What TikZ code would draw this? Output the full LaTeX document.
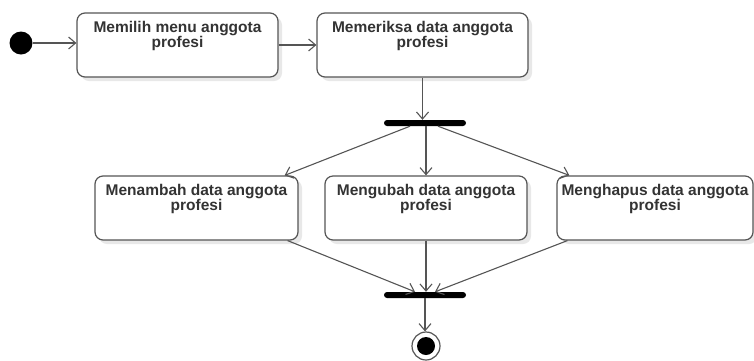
\documentclass[tikz,border=0pt]{standalone}
\usepackage{fontspec}
\setmainfont{Liberation Sans}
\usetikzlibrary{arrows.meta, positioning, shadows}
\definecolor{actGray}{HTML}{555555}
\definecolor{actText}{HTML}{333333}

\begin{document}
\begin{tikzpicture}[
  x=1pt, y=-1pt,
  actbox/.style={
    rectangle, rounded corners=8pt, draw=actGray, fill=white,
    line width=1.2pt, minimum height=64pt,
    drop shadow={shadow xshift=4pt, shadow yshift=-4pt, opacity=0.18},
    label={[acttext]north:{#1}},
  },
  acttext/.style={
    anchor=north, yshift=-8.5pt, inner sep=0pt, align=center,
    font=\fontsize{15.5}{15}\selectfont\bfseries, text=actText,
  },
  bar/.style={
    rectangle, rounded corners=3pt, fill=black,
    minimum width=82pt, minimum height=6pt, inner sep=0pt,
  },
  flow/.style={-{Straight Barb[length=7pt,width=12pt]}, draw=actGray, line width=1.1pt},
]
\useasboundingbox (0,0) rectangle (754,360);

% Start and first actions
\node[circle, fill=black, minimum size=23pt, inner sep=0pt] (start) at (21,43) {};
\node[actbox={Memilih menu anggota\\profesi}, minimum width=201pt] (memilih) at (177.5,45) {};
\node[actbox={Memeriksa data anggota\\profesi}, minimum width=211pt] (memeriksa) at (422.5,45) {};

% Fork
\node[bar] (fork) at (425,123) {};

% Parallel actions
\node[actbox={Menambah data anggota\\profesi}, minimum width=203pt] (menambah) at (196.5,208) {};
\node[actbox={Mengubah data anggota\\profesi}, minimum width=202pt] (mengubah) at (426,208) {};
\node[actbox={Menghapus data anggota\\profesi}, minimum width=196pt] (menghapus) at (655,208) {};

% Join and end
\node[bar] (join) at (425,295) {};
\node[circle, draw=actGray, line width=1.2pt, fill=white, minimum size=28pt, inner sep=0pt,
  path picture={\fill[black] (path picture bounding box.center) circle (9pt);}] (finish) at (426,346) {};

% Flows
\draw[flow] (start.east) -- (start.east -| memilih.west);
\draw[flow] (memilih) -- (memeriksa);
\draw[flow] (memeriksa.south) -- (memeriksa.south |- fork.north);

\draw[flow] ([xshift=-15pt]fork.south) -- ([xshift=-14pt]menambah.north east);
\draw[flow] (fork.south -| mengubah.north) -- (mengubah.north);
\draw[flow] ([xshift=13pt]fork.south) -- ([xshift=13pt]menghapus.north west);

\draw[flow] ([xshift=-11pt]menambah.south east) -- ([xshift=-10pt]join.north);
\draw[flow] (mengubah.south) -- (mengubah.south |- join.north);
\draw[flow] ([xshift=11pt]menghapus.south west) -- ([xshift=10pt]join.north);

\draw[flow] (join.south) -- (join.south |- finish.north);

\end{tikzpicture}
\end{document}
